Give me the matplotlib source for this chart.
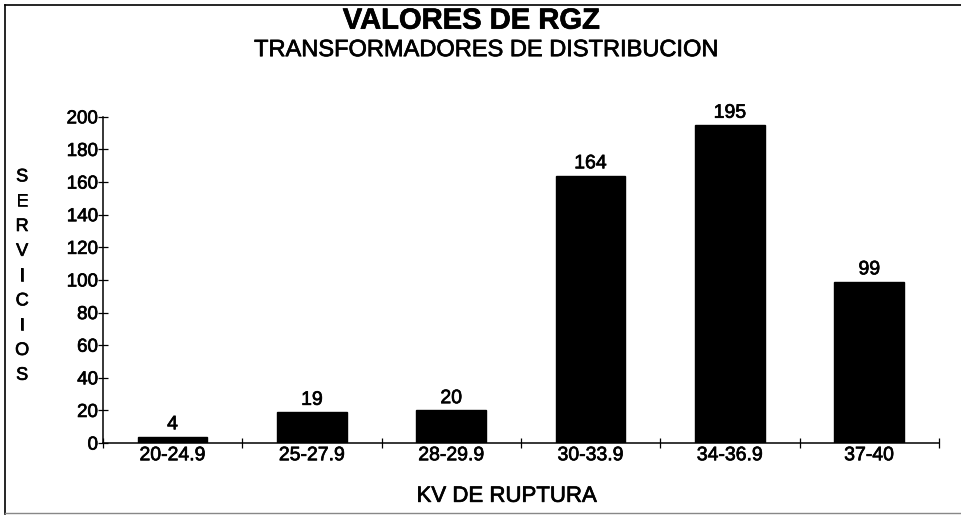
import matplotlib
matplotlib.use('Agg')
import matplotlib.pyplot as plt
import matplotlib.patheffects as pe
from matplotlib.lines import Line2D

rangos = ['20-24.9', '25-27.9', '28-29.9', '30-33.9', '34-36.9', '37-40']
servicios = [4, 19, 20, 164, 195, 99]
yticks = list(range(0, 201, 20))

plt.rcParams['font.family'] = ['Liberation Sans', 'DejaVu Sans']

# slightly heavier strokes on the lettering, like a photocopied print
heavy = [pe.withStroke(linewidth=0.5, foreground='black')]

fig = plt.figure(figsize=(9.62, 5.17), dpi=100)
ax = fig.add_axes([0.107, 0.143, 0.869, 0.631])

x = range(len(rangos))
bars = ax.bar(x, servicios, width=0.5, color='black', edgecolor='black')
for b, v in zip(bars, servicios):
    ax.text(b.get_x() + b.get_width() / 2, v + 2, str(v),
            ha='center', va='bottom', fontsize=14, path_effects=heavy)

ax.set_xlim(-0.5, len(rangos) - 0.5)
ax.set_ylim(0, 200)
ax.set_yticks(yticks)
ax.set_xticks(list(x))
ax.set_xticklabels(rangos, fontsize=14)
ax.tick_params(axis='y', labelsize=13.5, direction='inout', length=7, width=0.9, pad=0)
ax.tick_params(axis='x', length=0, pad=3)
# ticks on the category boundaries
ax.set_xticks([i - 0.5 for i in range(len(rangos) + 1)], minor=True)
ax.tick_params(axis='x', which='minor', direction='inout', length=7, width=0.9)
for lbl in ax.get_xticklabels() + ax.get_yticklabels():
    lbl.set_path_effects(heavy)

for s in ('top', 'right'):
    ax.spines[s].set_visible(False)
ax.spines['left'].set_linewidth(1.1)
ax.spines['bottom'].set_linewidth(1.1)

fig.text(0.49, 0.96, 'VALORES DE RGZ', ha='center', va='center',
         fontsize=21, fontweight='bold',
         path_effects=[pe.withStroke(linewidth=0.5, foreground='black')])
fig.text(0.505, 0.903, 'TRANSFORMADORES DE DISTRIBUCION', ha='center',
         va='center', fontsize=17, path_effects=heavy)
# y axis title written letter by letter down the left side
fig.text(0.023, 0.466, '\n'.join('SERVICIOS'), ha='center', va='center',
         fontsize=13, linespacing=1.6, path_effects=heavy)
fig.text(0.527, 0.04, 'KV DE RUPTURA', ha='center', va='center', fontsize=16,
         path_effects=heavy)

# page frame: top and left edges dark, bottom edge faint
fig.add_artist(Line2D([0.005, 1.0], [0.99, 0.99], transform=fig.transFigure,
                      color='black', linewidth=1.2))
fig.add_artist(Line2D([0.005, 0.005], [0.99, 0.006], transform=fig.transFigure,
                      color='black', linewidth=1.2))
fig.add_artist(Line2D([0.005, 1.0], [0.008, 0.008], transform=fig.transFigure,
                      color='#888888', linewidth=1.0))

fig.savefig('out.png', dpi=100)
